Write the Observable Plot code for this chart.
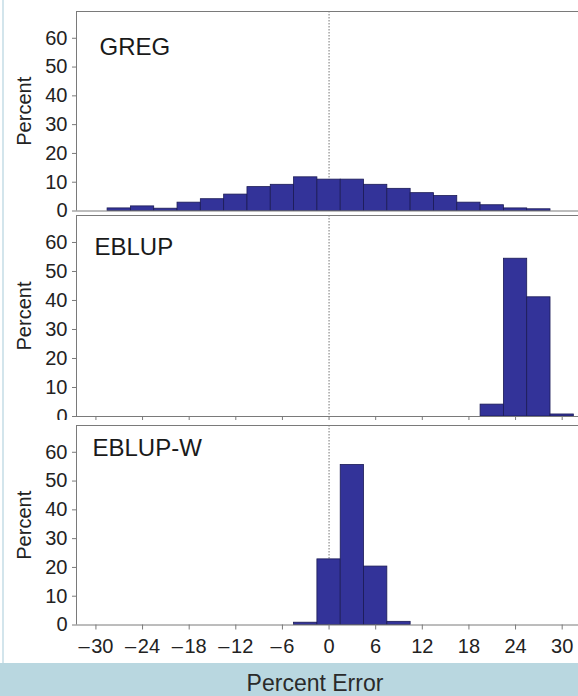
<!DOCTYPE html>
<html>
<head>
<meta charset="utf-8">
<script src="https://cdn.jsdelivr.net/npm/d3@7"></script>
<script src="https://cdn.jsdelivr.net/npm/@observablehq/plot@0.6"></script>
<style>
  body { margin: 0; background: #fff; }
  #wrap { position: relative; width: 578px; height: 696px; overflow: hidden; background: #fff;
          font-family: "Liberation Sans", Arial, Helvetica, sans-serif; }
  #wrap svg { position: absolute; left: 0; }
  #strip { position: absolute; left: 2px; top: 0; width: 2px; height: 663px; background: #d3e5ec; }
  #band { position: absolute; left: 0; top: 663px; width: 578px; height: 33px; background: #b9d7e0; }
  #band span { position: absolute; left: 315px; top: 9px; transform: translateX(-50%);
               font-size: 23px; line-height: 1; color: #2a2a2a; white-space: nowrap; }
</style>
</head>
<body>
<div id="wrap"></div>
<script>
// ---- data ----
const panelNames = ["GREG", "EBLUP", "EBLUP-W"];
const binWidth = 3;
const gregCenters = [-27, -24, -21, -18, -15, -12, -9, -6, -3, 0, 3, 6, 9, 12, 15, 18, 21, 24, 27];
const gregPct = [0.9, 1.6, 0.8, 2.9, 4.1, 5.7, 8.3, 9.1, 11.7, 10.9, 10.9, 9.1, 7.7, 6.2, 5.2, 2.9, 2.0, 0.9, 0.6];
const eblupCenters = [21, 24, 27, 30];
const eblupPct = [4.1, 54.4, 41.1, 0.7];
const eblupwCenters = [-3, 0, 3, 6, 9];
const eblupwPct = [0.8, 22.8, 55.6, 20.3, 1.1];
const xTicks = [-30, -24, -18, -12, -6, 0, 6, 12, 18, 24, 30];
const yTicks = [0, 10, 20, 30, 40, 50, 60];
const yLabel = "Percent";
const xLabel = "Percent Error";

// ---- layout / style ----
const xDomain = [-32.5, 32.1];
const yDomain = [0, 69.3];
const FONT = '"Liberation Sans", Arial, Helvetica, sans-serif';
const BAR = "#333399", BAR_EDGE = "#1b1b55", FRAME = "#7a7a7a", TEXT = "#222";

const layout = [
  {centers: gregCenters, values: gregPct, top: 0, height: 213, mt: 11, mb: 2.5, xaxis: "none", lx: 23, ly: 43, bg: "transparent"},
  {centers: eblupCenters, values: eblupPct, top: 213, height: 207, mt: 2, mb: 4, xaxis: "ticks", lx: 18, ly: 39, bg: "transparent"},
  {centers: eblupwCenters, values: eblupwPct, top: 420, height: 243, mt: 5, mb: 38.5, xaxis: "full", lx: 16, ly: 30, bg: "white"}
];

const fmt = d => d < 0 ? "\u2013\u200a" + (-d) : String(d);

const wrap = document.getElementById("wrap");

layout.forEach((p, i) => {
  const bins = p.centers.map((c, j) => ({x1: c - binWidth / 2, x2: c + binWidth / 2, pct: p.values[j]}));
  const marks = [
    Plot.ruleX([0], {stroke: "#777", strokeDasharray: "1.5,1.5", strokeWidth: 1}),
    Plot.rectY(bins, {x1: "x1", x2: "x2", y: "pct", fill: BAR, stroke: BAR_EDGE, strokeWidth: 0.8}),
    Plot.ruleY([yDomain[1]], {stroke: FRAME}),
    Plot.ruleX([xDomain[0]], {stroke: FRAME}),
    Plot.ruleY([0], {stroke: FRAME}),
    Plot.axisY(yTicks, {tickSize: 4, tickPadding: 5, fontSize: 20, label: null, stroke: FRAME, fill: TEXT}),
    Plot.text([yLabel], {frameAnchor: "left", text: d => d, rotate: -90, dx: -52, textAnchor: "middle",
                         lineAnchor: "middle", fontSize: 20, fill: TEXT}),
    Plot.text([panelNames[i]], {frameAnchor: "top-left", text: d => d, textAnchor: "start", lineAnchor: "bottom",
                                dx: p.lx, dy: p.ly, fontSize: 24, fill: "#1a1a1a"})
  ];
  if (p.xaxis === "ticks") {
    marks.push(Plot.axisX(xTicks, {tickSize: 4, tickFormat: () => "", label: null, stroke: FRAME}));
  } else if (p.xaxis === "full") {
    marks.push(Plot.axisX(xTicks, {tickSize: 5, tickPadding: 9, fontSize: 20, tickFormat: fmt, label: null,
                                   stroke: FRAME, fill: TEXT}));
  }
  const svg = Plot.plot({
    width: 578,
    height: p.height,
    marginTop: p.mt,
    marginBottom: p.mb,
    marginLeft: 76,
    marginRight: 0,
    x: {domain: xDomain, axis: null},
    y: {domain: yDomain, axis: null},
    style: {background: p.bg, overflow: "visible", fontFamily: FONT, color: TEXT, fontSize: "20px"},
    marks
  });
  svg.style.top = p.top + "px";
  wrap.appendChild(svg);
});

const strip = document.createElement("div");
strip.id = "strip";
wrap.appendChild(strip);

const band = document.createElement("div");
band.id = "band";
const span = document.createElement("span");
span.textContent = xLabel;
band.appendChild(span);
wrap.appendChild(band);
</script>
</body>
</html>
